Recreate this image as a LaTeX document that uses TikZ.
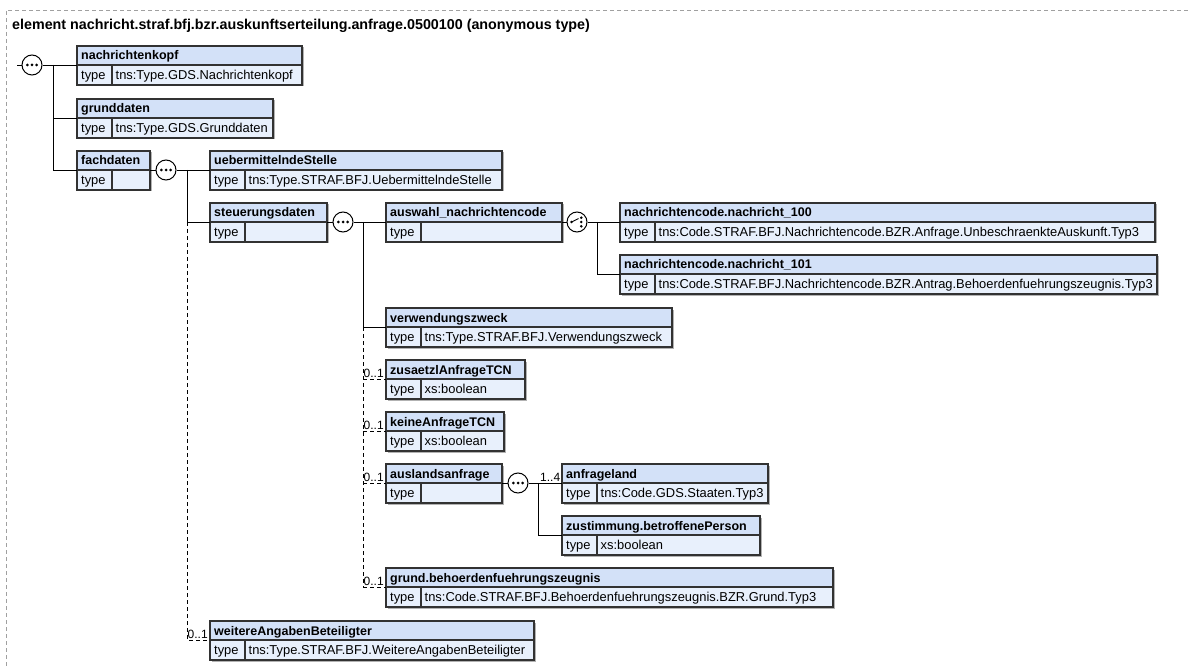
\documentclass[tikz,border=0pt]{standalone}
\usepackage{fontspec}
\setmainfont{Liberation Sans}
\usetikzlibrary{calc}
\definecolor{hdrc}{RGB}{211,225,248}
\definecolor{rowc}{RGB}{232,240,252}
\definecolor{bordc}{RGB}{50,50,50}
\definecolor{framec}{RGB}{160,160,160}
\tikzset{
  boxline/.style={draw=bordc,line width=1.1pt},
  conn/.style={draw=black,line width=0.9pt},
  optline/.style={draw=black,line width=0.9pt,dash pattern=on 4pt off 3pt},
  txt/.style={anchor=base west,inner sep=0pt,font=\fontsize{12.9}{15}\selectfont},
  btxt/.style={anchor=base west,inner sep=0pt,font=\fontsize{12.5}{14}\selectfont\bfseries},
  occ/.style={anchor=base west,inner sep=0pt,font=\fontsize{12}{13}\selectfont},
  grp/.style={circle,draw=black,line width=1pt,fill=white,minimum size=20pt,inner sep=0pt},
}
\newcommand\elbox[6]{%
  \fill[gray!60] ({#2+1.5},{#3+1.5}) rectangle ({#2+#4+1.5},{#3+40.5});
  \fill[hdrc] (#2,#3) rectangle ({#2+#4},{#3+19});
  \fill[rowc] (#2,{#3+19}) rectangle ({#2+#4},{#3+39});
  \draw[boxline] (#2,#3) rectangle ({#2+#4},{#3+39});
  \draw[boxline] (#2,{#3+19}) -- ({#2+#4},{#3+19});
  \draw[boxline] ({#2+35},{#3+19}) -- ({#2+35},{#3+39});
  \node[btxt] (#1-t) at ({#2+4},{#3+14}) {#5};
  \node[txt] (#1-k) at ({#2+4},{#3+33.5}) {type};
  \node[txt] (#1-v) at ({#2+38.5},{#3+33.5}) {#6};
  \coordinate (#1-w) at (#2,{#3+19});
  \coordinate (#1-e) at ({#2+#4},{#3+19});
}
\newcommand\seqdots[1]{%
  \fill ($(#1)+(-4.6,0)$) circle (1.5);
  \fill (#1) circle (1.5);
  \fill ($(#1)+(4.6,0)$) circle (1.5);
}
\begin{document}
\begin{tikzpicture}[x=1pt,y=-1pt]
\useasboundingbox (0,0) rectangle (1188,668);
% outer frame (only top and left visible)
\draw[framec,line width=0.9pt,dash pattern=on 4pt off 3pt] (1188,10) -- (6,10) -- (6,668);
\node[anchor=base west,inner sep=0pt,font=\fontsize{14.3}{16}\selectfont\bfseries] (title) at (12,30)
  {element nachricht.straf.bfj.bzr.auskunftserteilung.anfrage.0500100 (anonymous type)};

% element boxes
\elbox{nk}{77}{46}{225}{nachrichtenkopf}{tns:Type.GDS.Nachrichtenkopf}
\elbox{gd}{77}{99}{196}{grunddaten}{tns:Type.GDS.Grunddaten}
\elbox{fd}{77}{151}{73}{fachdaten}{}
\elbox{us}{210}{151}{292}{uebermittelndeStelle}{tns:Type.STRAF.BFJ.UebermittelndeStelle}
\elbox{sd}{210}{203}{117}{steuerungsdaten}{}
\elbox{an}{386}{203}{176}{auswahl\_nachrichtencode}{}
\elbox{na}{620}{203}{535}{nachrichtencode.nachricht\_100}{tns:Code.STRAF.BFJ.Nachrichtencode.BZR.Anfrage.UnbeschraenkteAuskunft.Typ3}
\elbox{nb}{620}{255}{537}{nachrichtencode.nachricht\_101}{tns:Code.STRAF.BFJ.Nachrichtencode.BZR.Antrag.Behoerdenfuehrungszeugnis.Typ3}
\elbox{vz}{386}{308}{286}{verwendungszweck}{tns:Type.STRAF.BFJ.Verwendungszweck}
\elbox{za}{386}{360}{139}{zusaetzlAnfrageTCN}{xs:boolean}
\elbox{ka}{386}{412}{118}{keineAnfrageTCN}{xs:boolean}
\elbox{aa}{386}{464}{116}{auslandsanfrage}{}
\elbox{al}{562}{464}{206}{anfrageland}{tns:Code.GDS.Staaten.Typ3}
\elbox{zb}{562}{516}{198}{zustimmung.betroffenePerson}{xs:boolean}
\elbox{gb}{386}{568}{447}{grund.behoerdenfuehrungszeugnis}{tns:Code.STRAF.BFJ.Behoerdenfuehrungszeugnis.BZR.Grund.Typ3}
\elbox{wa}{210}{621}{324}{weitereAngabenBeteiligter}{tns:Type.STRAF.BFJ.WeitereAngabenBeteiligter}

% compositor nodes
\node[grp] (s1) at (32,65) {};
\node[grp] (s2) at (166,170) {};
\node[grp] (s3) at (343,222) {};
\node[grp] (c1) at (577,222) {};
\node[grp] (s4) at (518,483) {};
\seqdots{s1}\seqdots{s2}\seqdots{s3}\seqdots{s4}
% choice icon
\draw[line width=0.9pt] ($(c1)+(-5.5,0)$) -- ($(c1)+(1.5,-3.5)$);
\fill ($(c1)+(-5.5,0)$) circle (1.4);
\fill ($(c1)+(4.3,-4.3)$) circle (1.4);
\fill ($(c1)+(4.3,0)$) circle (1.4);
\fill ($(c1)+(4.3,4.3)$) circle (1.4);

% junction coordinates
\coordinate (root) at (17,65);
\coordinate (j1) at (53,65);
\coordinate (j2) at (187,170);
\coordinate (j2b) at (187,222);
\coordinate (j3) at (363,222);
\coordinate (j3b) at (363,327);
\coordinate (j4) at (597,222);
\coordinate (j5) at (538,483);

% connectors
\draw[conn] (root) -- (s1.west);
\draw[conn] (s1.east) -- (nk-w);
\draw[conn] (j1) |- (gd-w);
\draw[conn] (j1) |- (fd-w);
\draw[conn] (fd-e) -- (s2.west);
\draw[conn] (s2.east) -- (us-w);
\draw[conn] (j2) |- (sd-w);
\draw[optline] (j2b) |- (wa-w);
\draw[conn] (sd-e) -- (s3.west);
\draw[conn] (s3.east) -- (an-w);
\draw[conn] (j3) |- (vz-w);
\draw[optline] (j3b) -- (j3b |- gb-w);
\draw[optline] (j3b |- za-w) -- (za-w);
\draw[optline] (j3b |- ka-w) -- (ka-w);
\draw[optline] (j3b |- aa-w) -- (aa-w);
\draw[optline] (j3b |- gb-w) -- (gb-w);
\draw[conn] (an-e) -- (c1.west);
\draw[conn] (c1.east) -- (na-w);
\draw[conn] (j4) |- (nb-w);
\draw[conn] (aa-e) -- (s4.west);
\draw[conn] (s4.east) -- (al-w);
\draw[conn] (j5) |- (zb-w);

% occurrence labels
\node[occ] (o1) at (363.5,377) {0..1};
\node[occ] (o2) at (363.5,429) {0..1};
\node[occ] (o3) at (363.5,481) {0..1};
\node[occ] (o4) at (363.5,585) {0..1};
\node[occ] (o5) at (187.5,638) {0..1};
\node[occ] (o6) at (540,481) {1..4};
\end{tikzpicture}
\end{document}
